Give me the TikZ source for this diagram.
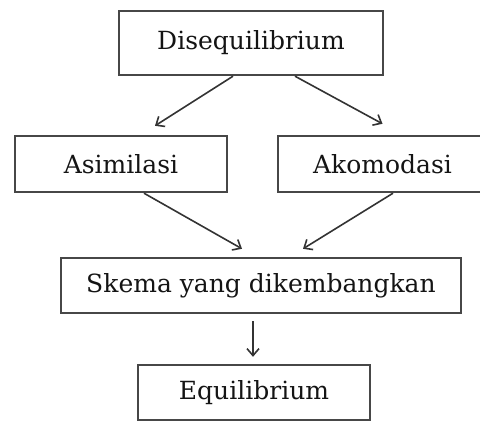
\documentclass[tikz,border=0pt]{standalone}
\usepackage{fontspec}
\setmainfont{DejaVu Serif}
\usetikzlibrary{arrows.meta}
\begin{document}
\begin{tikzpicture}[x=1pt,y=-1pt,
  box/.style={draw=black!72,line width=2.4pt,inner sep=0pt,text=black!92,font=\fontsize{25}{30}\selectfont},
  arr/.style={draw=black!80,line width=1.6pt,-{Straight Barb[length=7pt,width=12pt,line width=1.6pt]}}]
\useasboundingbox[fill=white] (0,0) rectangle (480,423);
\node[box,minimum width=264pt,minimum height=64pt] (diseq) at (251,43) {Disequilibrium};
\node[box,minimum width=212pt,minimum height=56pt] (asim) at (121,164) {Asimilasi};
\node[box,minimum width=209pt,minimum height=56pt] (akom) at (382.5,164) {Akomodasi};
\node[box,minimum width=400pt,minimum height=55pt] (skema) at (261,285.5) {Skema yang dikembangkan};
\node[box,minimum width=232pt,minimum height=55pt] (equil) at (254,392.5) {Equilibrium};
\draw[arr] ([xshift=-18pt]diseq.south) -- ([xshift=34pt,yshift=9pt]asim.north);
\draw[arr] ([xshift=44pt]diseq.south) -- ([yshift=11pt]akom.north);
\draw[arr] ([xshift=23pt]asim.south) -- ([xshift=-19pt,yshift=8pt]skema.north);
\draw[arr] ([xshift=10.5pt]akom.south) -- ([xshift=42pt,yshift=8pt]skema.north);
\draw[arr] ([xshift=-8pt,yshift=-7pt]skema.south) -- ([xshift=-1pt,yshift=7pt]equil.north);
\end{tikzpicture}
\end{document}
